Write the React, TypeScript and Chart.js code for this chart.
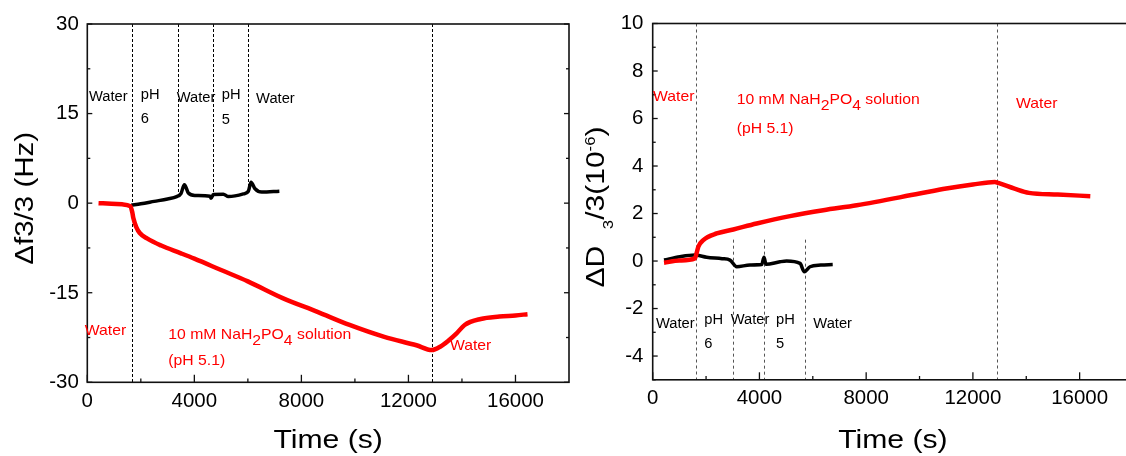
import React, { useEffect, useRef } from "react";
import { Chart, registerables } from "chart.js";
Chart.register(...registerables);

const CANVAS_W = 1140;
const CANVAS_H = 456;
const FONT = '"Liberation Sans", Arial, Helvetica, sans-serif';

// ---------- Left panel: Δf3/3 (Hz) ----------
const fRedX = [420, 900, 1300, 1600, 1680, 1720, 1830, 1960, 2230, 2760, 3500, 4000, 5000, 6000, 7300, 8600, 9800, 11100, 12300, 12875, 13200, 13500, 13800, 14100, 14700, 15400, 16000, 16450];
const fRedY = [0, -0.1, -0.2, -0.5, -1.5, -2.5, -4.0, -5.0, -5.9, -7.1, -8.4, -9.3, -11.2, -13.1, -15.9, -18.2, -20.4, -22.4, -23.8, -24.6, -24.0, -23.0, -21.8, -20.4, -19.4, -19.0, -18.8, -18.6];
const fBlackX = [1640, 2000, 2500, 3000, 3340, 3500, 3627, 3776, 4026, 4587, 4624, 4711, 5085, 5272, 5832, 6018, 6118, 6268, 6518, 7177];
const fBlackY = [-0.33, -0.1, 0.3, 0.7, 1.1, 1.6, 3.1, 1.7, 1.3, 1.15, 0.8, 1.45, 1.5, 1.1, 1.55, 2.0, 3.5, 2.4, 1.85, 2.0];
const fXTicks = [0, 4000, 8000, 12000, 16000];
const fXMinor = [2000, 6000, 10000, 14000];
const fYTicks = [-30, -15, 0, 15, 30];
const fYMinor = [-22.5, -7.5, 7.5, 22.5];
const fDashX = [1660, 3380, 4690, 6020, 12875];
const fDashTop = [30, 30, 30, 30, 30];
const fDashBottom = [-30, 1.2, 1.0, 2.0, -30];
const fLabelText = ["Water", "pH", "6", "Water", "pH", "5", "Water", "Water", "10 mM NaH_{2}PO_{4} solution", "(pH 5.1)", "Water"];
const fLabelX = [60, 2000, 2000, 3340, 5024, 5024, 6306, -93, 3028, 3028, 13550];
const fLabelY = [17.16, 17.4, 13.37, 16.9, 17.4, 13.26, 16.72, -22.08, -22.8, -27.1, -24.6];
const fLabelColor = ["#000", "#000", "#000", "#000", "#000", "#000", "#000", "#ff0000", "#ff0000", "#ff0000", "#ff0000"];

// ---------- Right panel: ΔD3/3 (1e-6) ----------
const dRedX = [424, 1000, 1585, 1650, 1710, 1897, 2398, 3022, 3897, 5146, 6394, 7645, 10000, 11000, 12000, 12820, 12950, 13560, 14100, 15180, 16400];
const dRedY = [-0.07, 0.02, 0.11, 0.35, 0.6, 0.88, 1.16, 1.33, 1.58, 1.89, 2.14, 2.35, 2.84, 3.05, 3.22, 3.33, 3.29, 3.05, 2.87, 2.8, 2.73];
const dBlackX = [424, 1024, 1585, 2022, 2600, 2897, 3147, 3647, 4085, 4172, 4247, 4771, 5021, 5521, 5684, 5896, 6300, 6746];
const dBlackY = [0.04, 0.18, 0.25, 0.16, 0.1, 0.04, -0.24, -0.17, -0.15, 0.16, -0.14, -0.03, 0.0, -0.1, -0.45, -0.24, -0.17, -0.15];
const dXTicks = [0, 4000, 8000, 12000, 16000];
const dXMinor = [2000, 6000, 10000, 14000];
const dYTicks = [-4, -2, 0, 2, 4, 6, 8, 10];
const dYMinor = [-5, -3, -1, 1, 3, 5, 7, 9];
const dDashX = [1612, 3010, 4172, 5697, 12905];
const dDashTop = [10, 0.9, 0.9, 0.9, 10];
const dDashBottom = [-5, -5, -5, -5, -5];
const dLabelText = ["Water", "10 mM NaH_{2}PO_{4} solution", "(pH 5.1)", "Water", "Water", "pH", "6", "Water", "pH", "5", "Water"];
const dLabelX = [14, 3148, 3148, 13617, 124, 1934, 1934, 2923, 4621, 4621, 6019];
const dLabelY = [6.75, 6.6, 5.38, 6.45, -2.81, -2.67, -3.65, -2.67, -2.67, -3.65, -2.81];
const dLabelColor = ["#ff0000", "#ff0000", "#ff0000", "#ff0000", "#000", "#000", "#000", "#000", "#000", "#000", "#000"];

type Seg = { t: string; kind: "n" | "sub" | "sup" };

function parseRich(text: string): Seg[] {
  const parts = text.split(/(_\{[^}]*\}|\^\{[^}]*\})/).filter((p) => p.length > 0);
  return parts.map((p) => {
    if (p.startsWith("_{")) return { t: p.slice(2, -1), kind: "sub" as const };
    if (p.startsWith("^{")) return { t: p.slice(2, -1), kind: "sup" as const };
    return { t: p, kind: "n" as const };
  });
}

type RichOpts = { size: number; subSize: number; subDy: number; supDy: number; sx: number; color: string; align: "left" | "center" };

function drawRich(ctx: CanvasRenderingContext2D, text: string, o: RichOpts) {
  const segs = parseRich(text);
  let total = 0;
  const widths: number[] = [];
  for (const s of segs) {
    ctx.font = `${s.kind === "n" ? o.size : o.subSize}px ${FONT}`;
    const w = ctx.measureText(s.t).width;
    widths.push(w);
    total += w;
  }
  ctx.save();
  ctx.scale(o.sx, 1);
  ctx.fillStyle = o.color;
  ctx.textAlign = "left";
  ctx.textBaseline = "alphabetic";
  let cx = o.align === "center" ? -total / 2 : 0;
  segs.forEach((s, i) => {
    ctx.font = `${s.kind === "n" ? o.size : o.subSize}px ${FONT}`;
    const dy = s.kind === "sub" ? o.subDy : s.kind === "sup" ? o.supDy : 0;
    ctx.fillText(s.t, cx, dy);
    cx += widths[i];
  });
  ctx.restore();
}

function drawText(ctx: CanvasRenderingContext2D, text: string, x: number, y: number, size: number, align: CanvasTextAlign, baseline: CanvasTextBaseline, sx: number) {
  ctx.save();
  ctx.font = `${size}px ${FONT}`;
  ctx.fillStyle = "#000";
  ctx.textAlign = align;
  ctx.textBaseline = baseline;
  ctx.translate(x, y);
  ctx.scale(sx, 1);
  ctx.fillText(text, 0, 0);
  ctx.restore();
}

type PanelCfg = {
  xTicks: number[];
  xMinor: number[];
  yTicks: number[];
  yMinor: number[];
  xLabelBaseline: number;
  yLabelGap: number;
  dashX: number[];
  dashTop: number[];
  dashBottom: number[];
  dashColor: string;
  dashPattern: number[];
  labelText: string[];
  labelX: number[];
  labelY: number[];
  labelColor: string[];
  yTitle: string;
  yTitleX: number;
  yTitleY: number;
  yTitleSx: number;
  xTitleY: number;
};

function makePanelPlugin(cfg: PanelCfg) {
  return {
    id: "panelDecor",
    beforeDatasetsDraw(chart: any) {
      const ctx: CanvasRenderingContext2D = chart.ctx;
      const xs = chart.scales.x;
      const ys = chart.scales.y;
      ctx.save();
      ctx.strokeStyle = cfg.dashColor;
      ctx.lineWidth = 1;
      ctx.setLineDash(cfg.dashPattern);
      cfg.dashX.forEach((v, i) => {
        const px = Math.round(xs.getPixelForValue(v)) + 0.5;
        ctx.beginPath();
        ctx.moveTo(px, ys.getPixelForValue(cfg.dashTop[i]));
        ctx.lineTo(px, ys.getPixelForValue(cfg.dashBottom[i]));
        ctx.stroke();
      });
      ctx.restore();
    },
    afterDatasetsDraw(chart: any) {
      const ctx: CanvasRenderingContext2D = chart.ctx;
      const xs = chart.scales.x;
      const ys = chart.scales.y;
      const a = chart.chartArea;
      // frame
      ctx.save();
      ctx.strokeStyle = "#111";
      ctx.lineWidth = 1.6;
      ctx.setLineDash([]);
      ctx.strokeRect(a.left, a.top, a.right - a.left, a.bottom - a.top);
      // ticks
      ctx.lineWidth = 1.3;
      const tick = (x1: number, y1: number, x2: number, y2: number) => {
        ctx.beginPath();
        ctx.moveTo(x1, y1);
        ctx.lineTo(x2, y2);
        ctx.stroke();
      };
      cfg.xTicks.forEach((v) => {
        const px = xs.getPixelForValue(v);
        tick(px, a.bottom, px, a.bottom - 7.5);
      });
      cfg.xMinor.forEach((v) => {
        const px = xs.getPixelForValue(v);
        tick(px, a.bottom, px, a.bottom - 3.8);
      });
      cfg.yTicks.forEach((v) => {
        const py = ys.getPixelForValue(v);
        tick(a.left, py, a.left + 5, py);
        tick(a.right, py, a.right - 5, py);
      });
      cfg.yMinor.forEach((v) => {
        const py = ys.getPixelForValue(v);
        tick(a.left, py, a.left + 3, py);
        tick(a.right, py, a.right - 3, py);
      });
      ctx.restore();
      // tick labels
      cfg.xTicks.forEach((v) => {
        drawText(ctx, String(v), xs.getPixelForValue(v), cfg.xLabelBaseline, 19.5, "center", "alphabetic", 1.05);
      });
      cfg.yTicks.forEach((v) => {
        drawText(ctx, String(v), a.left - cfg.yLabelGap, ys.getPixelForValue(v) + 0.5, 19.5, "right", "middle", 1.05);
      });
      // annotations
      cfg.labelText.forEach((t, i) => {
        const isRed = cfg.labelColor[i] !== "#000";
        const size = isRed ? 15 : 14;
        ctx.save();
        ctx.translate(xs.getPixelForValue(cfg.labelX[i]), ys.getPixelForValue(cfg.labelY[i]));
        drawRich(ctx, t, { size, subSize: size, subDy: 5.5, supDy: -6, sx: 1.05, color: cfg.labelColor[i], align: "left" });
        ctx.restore();
      });
      // x title
      ctx.save();
      ctx.translate((a.left + a.right) / 2, cfg.xTitleY);
      drawRich(ctx, "Time (s)", { size: 26, subSize: 14, subDy: 9, supDy: -9, sx: 1.16, color: "#000", align: "center" });
      ctx.restore();
      // y title
      ctx.save();
      ctx.translate(cfg.yTitleX, cfg.yTitleY);
      ctx.rotate(-Math.PI / 2);
      drawRich(ctx, cfg.yTitle, { size: 25, subSize: 14, subDy: 9, supDy: -9, sx: cfg.yTitleSx, color: "#000", align: "center" });
      ctx.restore();
    },
  };
}

function buildChart(
  canvas: HTMLCanvasElement,
  redX: number[],
  redY: number[],
  blackX: number[],
  blackY: number[],
  yMin: number,
  yMax: number,
  padding: { left: number; right: number; top: number; bottom: number },
  cfg: PanelCfg
) {
  return new Chart(canvas, {
    type: "line",
    data: {
      datasets: [
        {
          data: redX.map((x, i) => ({ x, y: redY[i] })),
          borderColor: "#ff0000",
          borderWidth: 4.5,
          pointRadius: 0,
          cubicInterpolationMode: "monotone",
          fill: false,
        },
        {
          data: blackX.map((x, i) => ({ x, y: blackY[i] })),
          borderColor: "#000000",
          borderWidth: 3.5,
          pointRadius: 0,
          cubicInterpolationMode: "monotone",
          fill: false,
        },
      ],
    },
    options: {
      animation: false,
      responsive: false,
      events: [],
      layout: { padding, autoPadding: false },
      scales: {
        x: { type: "linear", min: 0, max: 18000, display: false },
        y: { type: "linear", min: yMin, max: yMax, display: false },
      },
      plugins: { legend: { display: false }, tooltip: { enabled: false } },
    } as any,
    plugins: [makePanelPlugin(cfg) as any],
  });
}

export default function App() {
  const leftRef = useRef<HTMLCanvasElement>(null);
  const rightRef = useRef<HTMLCanvasElement>(null);

  useEffect(() => {
    if (!leftRef.current || !rightRef.current) return;
    const left = buildChart(
      leftRef.current,
      fRedX,
      fRedY,
      fBlackX,
      fBlackY,
      -30,
      30,
      { left: 87.3, right: CANVAS_W - 569, top: 24, bottom: CANVAS_H - 382.3 },
      {
        xTicks: fXTicks,
        xMinor: fXMinor,
        yTicks: fYTicks,
        yMinor: fYMinor,
        xLabelBaseline: 406.7,
        yLabelGap: 8.5,
        dashX: fDashX,
        dashTop: fDashTop,
        dashBottom: fDashBottom,
        dashColor: "#000",
        dashPattern: [3, 2],
        labelText: fLabelText,
        labelX: fLabelX,
        labelY: fLabelY,
        labelColor: fLabelColor,
        yTitle: "Δf3/3 (Hz)",
        yTitleX: 33.3,
        yTitleY: 198.3,
        yTitleSx: 1.18,
        xTitleY: 448,
      }
    );
    const right = buildChart(
      rightRef.current,
      dRedX,
      dRedY,
      dBlackX,
      dBlackY,
      -5,
      10,
      { left: 652.7, right: CANVAS_W - 1133, top: 23.5, bottom: CANVAS_H - 379.8 },
      {
        xTicks: dXTicks,
        xMinor: dXMinor,
        yTicks: dYTicks,
        yMinor: dYMinor,
        xLabelBaseline: 404,
        yLabelGap: 9.3,
        dashX: dDashX,
        dashTop: dDashTop,
        dashBottom: dDashBottom,
        dashColor: "#555",
        dashPattern: [3, 3],
        labelText: dLabelText,
        labelX: dLabelX,
        labelY: dLabelY,
        labelColor: dLabelColor,
        yTitle: "ΔD  _{3}/3(10^{-6})",
        yTitleX: 604,
        yTitleY: 207,
        yTitleSx: 1.2,
        xTitleY: 448,
      }
    );
    return () => {
      left.destroy();
      right.destroy();
    };
  }, []);

  return (
    <div style={{ position: "fixed", left: 0, top: 0, width: 1126, height: 456, overflow: "hidden", background: "#fff" }}>
      <canvas ref={leftRef} width={CANVAS_W} height={CANVAS_H} style={{ position: "absolute", left: 0, top: 0 }} />
      <canvas ref={rightRef} width={CANVAS_W} height={CANVAS_H} style={{ position: "absolute", left: 0, top: 0 }} />
    </div>
  );
}
